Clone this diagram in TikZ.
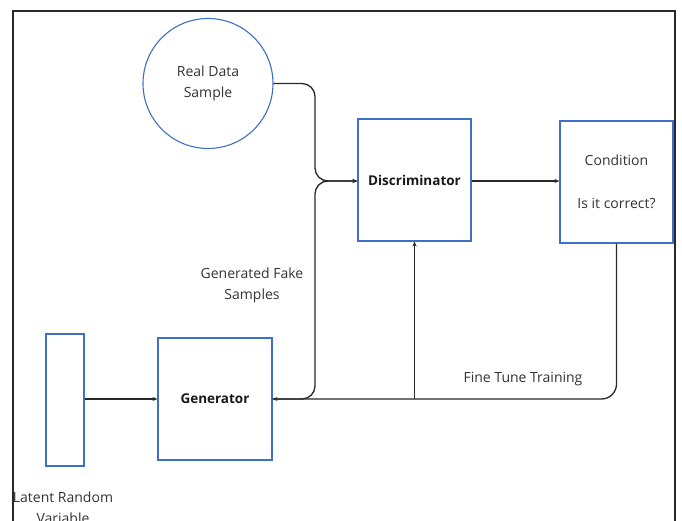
\documentclass[tikz,border=0pt]{standalone}
\usepackage{fontspec}
\setmainfont{Open Sans}
\usetikzlibrary{arrows.meta}
\definecolor{boxblue}{RGB}{62,112,200}
\definecolor{linegray}{RGB}{40,40,40}
\tikzset{
  x=1pt, y=-1pt,
  bluebox/.style={draw=boxblue, line width=1.1pt, minimum width=#1, inner sep=0pt},
  conn/.style={draw=linegray, line width=1.3pt, -{Stealth[length=5pt,width=4pt]}},
  lbl/.style={font=\fontsize{14}{21}\selectfont, text=black!80, align=center, inner sep=0pt},
  bold/.style={font=\fontsize{13.5}{16}\selectfont\bfseries, text=black!90},
}
\begin{document}
\begin{tikzpicture}
\useasboundingbox (0,0) rectangle (682,521);
\fill[white] (0,0) rectangle (682,521);
% frame
\draw[linegray, line width=1.3pt] (13,521) -- (13,11) -- (675,11) -- (675,521);
% nodes
\node[bluebox=130pt, circle, fill=white] (real) at (208,83.5) {};
\node[lbl] (realtxt) at (208,83.5) {Real Data\\Sample};
\node[bluebox=113pt, minimum height=122pt, bold] (disc) at (414.5,180) {Discriminator};
\node[bluebox=113pt, minimum height=122pt] (cond) at (616.5,182) {};
\node[lbl] (condtxt1) at (616.5,160) {Condition};
\node[lbl] (condtxt2) at (616.5,203) {Is it correct?};
\node[bluebox=114pt, minimum height=122pt, bold] (gen) at (215,399) {Generator};
\node[bluebox=38pt, minimum height=132pt] (lat) at (65,400) {};
% labels
\node[lbl] (fake) at (252,285) {Generated Fake\\Samples};
\node[lbl] (fine) at (523,379) {Fine Tune Training};
\node[lbl] (latlbl) at (63,508) {Latent Random\\Variable};
% connectors
\coordinate (c1) at (315,83.5);
\coordinate (c2) at (315,181);
\coordinate (c3) at (315,399);
\coordinate (c4) at (616.5,399);
\coordinate (c5) at (414.5,399);
\draw[conn, rounded corners=13pt] (real.east) -- (c1) -- (c2) -- (disc.west |- c2);
\draw[conn, rounded corners=13pt] (gen.east) -- (c3) -- (c2) -- (disc.west |- c2);
\draw[conn] (disc.east |- c2) -- (cond.west |- c2);
\draw[conn, rounded corners=15pt] (cond.south) -- (c4) -- (gen.east);
\draw[conn] (c5) -- (disc.south);
\draw[conn] (lat.east |- gen.west) -- (gen.west);
\end{tikzpicture}
\end{document}
